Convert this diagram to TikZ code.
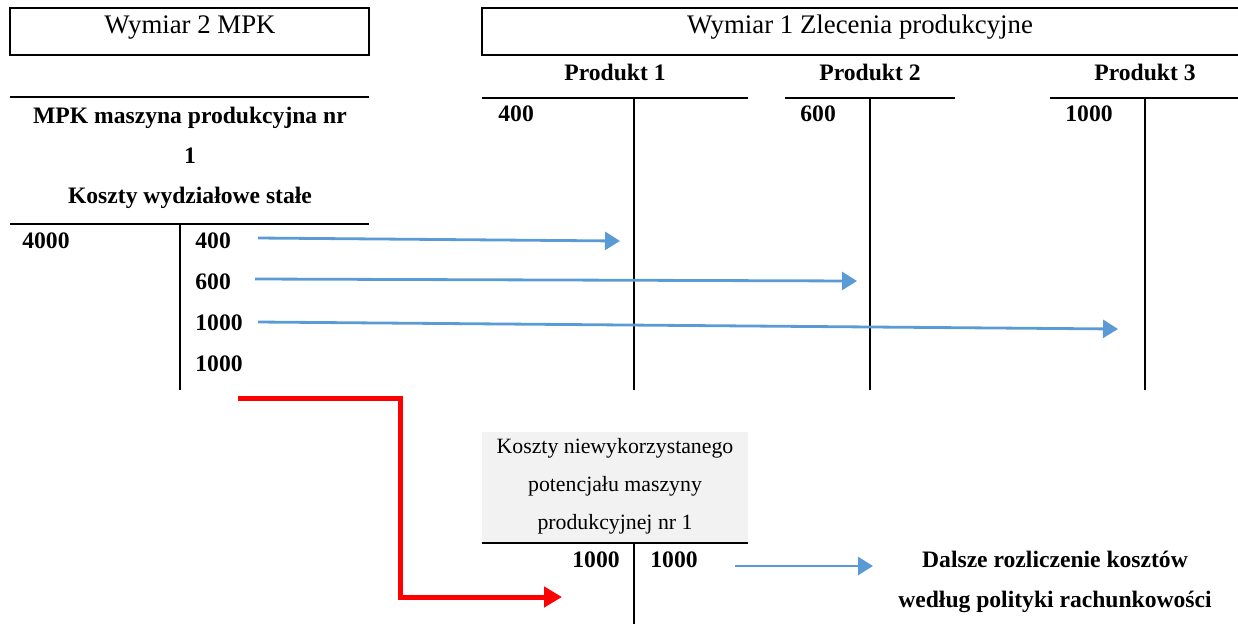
\documentclass[tikz,border=0pt]{standalone}
\usepackage{fontspec}
\setmainfont{Liberation Serif}
\usetikzlibrary{arrows.meta}
\definecolor{flowblue}{HTML}{5B9BD5}
\definecolor{flowred}{HTML}{FF0000}
\definecolor{cellgray}{HTML}{F2F2F2}

\begin{document}
\begin{tikzpicture}[x=0.5pt,y=-0.5pt,
  frame/.style={draw=black,line width=0.8pt},
  rule/.style={draw=black,line width=1pt},
  hdr/.style={font=\fontsize{13.4}{16}\selectfont,inner sep=0,anchor=base},
  small/.style={font=\fontsize{10.9}{13}\selectfont,inner sep=0,anchor=base},
  lbl/.style={font=\bfseries\fontsize{11.8}{14}\selectfont,inner sep=0,anchor=base},
  lblw/.style={lbl,anchor=base west},
  lble/.style={lbl,anchor=base east},
  flow/.style={draw=flowblue,line width=1.4pt,-{Triangle[length=7.5pt,width=9pt]}},
  redflow/.style={draw=flowred,line width=2.5pt,line join=miter,-{Triangle[length=9pt,width=10pt]}}
]
\useasboundingbox (0,0) rectangle (1238,623);

% dimension headers
\draw[frame] (10,8) rectangle (369,55);
\node[hdr] (dim2) at (190,33) {Wymiar 2 MPK};
\draw[frame] (1240,8) -- (482,8) -- (482,55) -- (1240,55);
\node[hdr] (dim1) at (860,33) {Wymiar 1 Zlecenia produkcyjne};

% cost centre account
\draw[rule] (10,97) -- (369,97);
\node[lbl] (mpk1) at (190,123) {MPK maszyna produkcyjna nr};
\node[lbl] (mpk2) at (190,163) {1};
\node[lbl] (mpk3) at (190,203) {Koszty wydziałowe stałe};
\draw[rule] (10,224) -- (369,224);
\draw[rule] (180,224) -- (180,390);
\node[lblw] (dt) at (22,248) {4000};
\node[lblw] (c1) at (195,248) {400};
\node[lblw] (c2) at (195,289) {600};
\node[lblw] (c3) at (195,330) {1000};
\node[lblw] (c4) at (195,371) {1000};

% product accounts
\node[lbl] (p1) at (615,80) {Produkt 1};
\draw[rule] (482,98) -- (748,98);
\draw[rule] (634,98) -- (634,390);
\node[lblw] (p1d) at (498,121) {400};

\node[lbl] (p2) at (870,80) {Produkt 2};
\draw[rule] (785,98) -- (955,98);
\draw[rule] (870,98) -- (870,390);
\node[lblw] (p2d) at (800,121) {600};

\node[lbl] (p3) at (1145,80) {Produkt 3};
\draw[rule] (1050,98) -- (1240,98);
\draw[rule] (1145,98) -- (1145,390);
\node[lblw] (p3d) at (1065,121) {1000};

% allocation arrows
\coordinate (a1s) at (258,238); \coordinate (a1e) at (620,241);
\coordinate (a2s) at (255,279); \coordinate (a2e) at (857,281);
\coordinate (a3s) at (258,322); \coordinate (a3e) at (1118,329);
\draw[flow] (a1s) -- (a1e);
\draw[flow] (a2s) -- (a2e);
\draw[flow] (a3s) -- (a3e);

% unused capacity account
\node[fill=cellgray,inner sep=0,minimum width=133pt,minimum height=55pt] (ubox) at (615,487) {};
\node[small] (u1) at (615,453) {Koszty niewykorzystanego};
\node[small] (u2) at (615,491) {potencjału maszyny};
\node[small] (u3) at (615,529) {produkcyjnej nr 1};
\draw[rule] (482,543) -- (748,543);
\draw[rule] (634,543) -- (634,625);
\node[lble] (ud) at (620,567) {1000};
\node[lblw] (uc) at (650,567) {1000};

% transfer of unused cost
\coordinate (rs) at (238,398);
\coordinate (re) at (562,597);
\draw[redflow] (rs) -- (400,398) -- (400,597) -- (re);

% further settlement
\coordinate (fs) at (735,566);
\coordinate (fe) at (873,566);
\draw[flow] (fs) -- (fe);
\node[lbl] (f1) at (1055,567) {Dalsze rozliczenie kosztów};
\node[lbl] (f2) at (1055,607) {według polityki rachunkowości};
\end{tikzpicture}
\end{document}
